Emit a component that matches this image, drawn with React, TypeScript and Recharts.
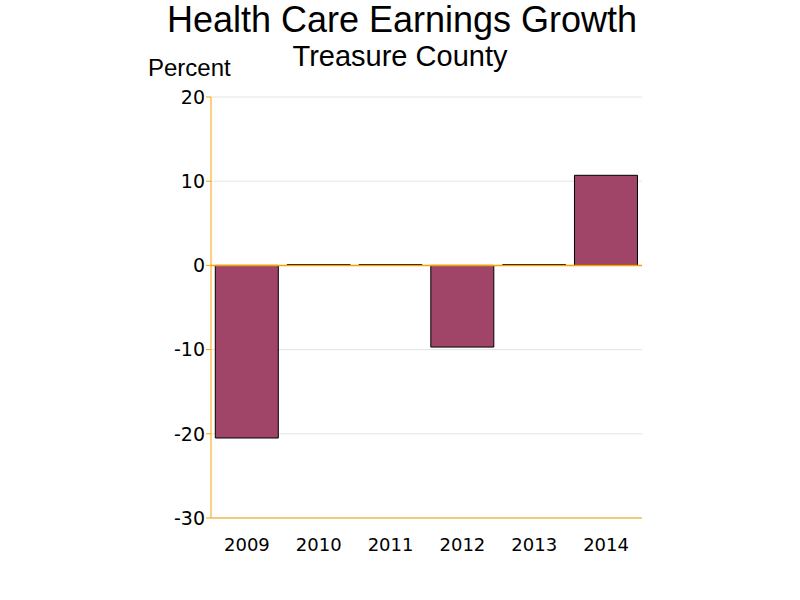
import { BarChart, Bar, XAxis, YAxis, CartesianGrid, ReferenceLine } from 'recharts';

const years = ['2009', '2010', '2011', '2012', '2013', '2014'];
const growth = [-20.5, 0.1, 0.1, -9.7, 0.1, 10.7];
const yTicks = [-30, -20, -10, 0, 10, 20];

const data = years.map((year, i) => ({ year, growth: growth[i] }));

const axisColor = '#f5a300';
const barColor = '#a04468';
const font = '"DejaVu Sans", sans-serif';

export default function App() {
  return (
    <div style={{ position: 'absolute', left: 0, top: 0, width: 800, height: 600, background: '#fff' }}>
      <div style={{ position: 'absolute', left: 2, width: 800, top: -1, textAlign: 'center', fontFamily: '"Liberation Sans", Arial, sans-serif', fontSize: 36, lineHeight: '42px', color: '#000' }}>
        Health Care Earnings Growth
      </div>
      <div style={{ position: 'absolute', left: 0, width: 800, top: 39, textAlign: 'center', fontFamily: '"Liberation Sans", Arial, sans-serif', fontSize: 29, lineHeight: '34px', color: '#000' }}>
        Treasure County
      </div>
      <div style={{ position: 'absolute', left: 148, top: 54, fontFamily: '"Liberation Sans", Arial, sans-serif', fontSize: 24, lineHeight: '28px', color: '#000' }}>
        Percent
      </div>
      <BarChart
        width={800}
        height={600}
        data={data}
        margin={{ top: 97, right: 158, left: 151, bottom: 42 }}
        barCategoryGap="6%"
      >
        <CartesianGrid horizontal vertical={false} stroke="#e4e4e4" />
        <XAxis
          dataKey="year"
          axisLine={{ stroke: axisColor }}
          tickLine={false}
          height={40}
          tick={{ fill: '#000', fontSize: 18, fontFamily: font }}
          tickMargin={14}
        />
        <YAxis
          domain={[-30, 20]}
          ticks={yTicks}
          width={60}
          axisLine={{ stroke: axisColor }}
          tickLine={{ stroke: axisColor }}
          tickSize={5}
          tickMargin={1}
          tick={{ fill: '#000', fontSize: 19, fontFamily: font }}
          interval={0}
        />
        <ReferenceLine y={0} stroke={axisColor} strokeWidth={1.5} />
        <Bar dataKey="growth" fill={barColor} stroke="#000" strokeWidth={1} isAnimationActive={false} />
      </BarChart>
    </div>
  );
}
